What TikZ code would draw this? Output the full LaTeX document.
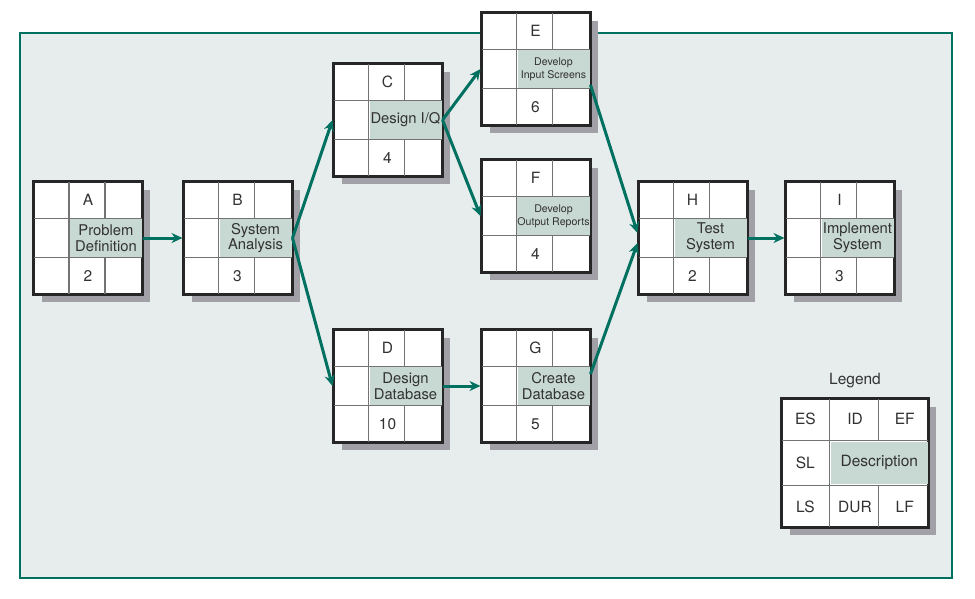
\documentclass[tikz,border=0pt]{standalone}
\usepackage{fontspec}
\setmainfont{TeX Gyre Heros}
\usetikzlibrary{positioning,arrows.meta,calc,shadows}
\definecolor{pertteal}{RGB}{0,112,96}
\definecolor{panelbg}{RGB}{231,237,237}
\definecolor{descfill}{RGB}{200,216,211}
\definecolor{shadowgray}{RGB}{160,160,166}
\definecolor{gridgray}{RGB}{115,115,115}
\definecolor{inkgray}{RGB}{50,50,50}
\tikzset{
  panel/.style={draw=pertteal, line width=2pt, fill=panelbg},
  actbox/.style={draw=black!85, line width=2pt, fill=white, inner sep=0pt,
                 minimum width=108pt, minimum height=112pt,
                 drop shadow={shadow xshift=8pt, shadow yshift=-8pt, fill=shadowgray, opacity=1}},
  legbox/.style={actbox, minimum width=146pt, minimum height=128pt},
  boxframe/.style={draw=black!85, line width=2pt},
  gridline/.style={draw=gridgray, line width=1.2pt},
  desccell/.style={fill=descfill, inner sep=0pt, minimum width=72pt, minimum height=37.3pt,
                   align=center, text=inkgray},
  cellbox/.style={inner sep=0pt, text=inkgray, font=\fontsize{15.5}{17}\selectfont},
  descfont/.style={font=\fontsize{14.8}{15.8}\selectfont},
  smallfont/.style={font=\fontsize{10.6}{13}\selectfont},
  flow/.style={-{Stealth[length=11pt, width=10pt]}, line width=3pt, pertteal},
  ttl/.style={text=inkgray, font=\fontsize{15.5}{17}\selectfont}
}
% activity box: name, centre, id, description, duration, description style
\newcommand{\actbox}[6]{%
  \node[actbox] (#1) at (#2) {};
  \node[desccell, #6] (#1-desc) at ($(#1.center)+(18,0)$) {#4};
  \draw[gridline] ($(#1.north west)+(36,0)$) -- ($(#1.south west)+(36,0)$);
  \draw[gridline] ($(#1.north west)+(72,0)$) -- ($(#1.north west)+(72,37.33)$);
  \draw[gridline] ($(#1.south west)+(72,0)$) -- ($(#1.south west)+(72,-37.33)$);
  \draw[gridline] ($(#1.north west)+(0,37.33)$) -- ($(#1.north east)+(0,37.33)$);
  \draw[gridline] ($(#1.south west)+(0,-37.33)$) -- ($(#1.south east)+(0,-37.33)$);
  \node[cellbox] (#1-id) at ($(#1.north)+(0,18.67)$) {#3};
  \node[cellbox] (#1-dur) at ($(#1.south)+(0,-18.67)$) {#5};
  \draw[boxframe] (#1.north west) rectangle (#1.south east);
}
\begin{document}
\begin{tikzpicture}[x=1pt, y=-1pt]
\useasboundingbox (0,0) rectangle (975,598);
\draw[panel] (20,33) rectangle (952,578);

% activities
\actbox{A}{88,238}{A}{Problem\\Definition}{2}{descfont}
\actbox{B}{237.5,238}{B}{System\\Analysis}{3}{descfont}
\actbox{C}{387.5,120}{C}{Design I/Q}{4}{descfont}
\actbox{D}{387.5,386}{D}{Design\\Database}{10}{descfont}
\actbox{E}{535.5,69}{E}{Develop\\Input Screens}{6}{smallfont}
\actbox{F}{535.5,216}{F}{Develop\\Output Reports}{4}{smallfont}
\actbox{G}{535.5,386}{G}{Create\\Database}{5}{descfont}
\actbox{H}{692.5,238}{H}{Test\\System}{2}{descfont}
\actbox{I}{839.5,238}{I}{Implement\\System}{3}{descfont}

% precedence arrows
\draw[flow] (A) -- (B);
\draw[flow] (B.east) -- (C.west);
\draw[flow] (B.east) -- (D.west);
\draw[flow] (C.east) -- (E.west);
\draw[flow] (C.east) -- (F.west);
\draw[flow] (D) -- (G);
\draw[flow] ($(E.east)+(0,16)$) -- ($(H.west)+(0,-5)$);
\draw[flow] ($(G.east)+(0,-12)$) -- ($(H.west)+(0,5)$);
\draw[flow] (H) -- (I);

% legend
\node[ttl] (legtitle) at (855,381) {Legend};
\node[legbox] (leg) at (855,463) {};
\node[desccell, minimum width=97.3pt, minimum height=42.7pt, cellbox] (leg-desc) at ($(leg.center)+(24.33,0)$) {Description};
\draw[gridline] ($(leg.north west)+(48.67,0)$) -- ($(leg.south west)+(48.67,0)$);
\draw[gridline] ($(leg.north west)+(97.33,0)$) -- ($(leg.north west)+(97.33,42.67)$);
\draw[gridline] ($(leg.south west)+(97.33,0)$) -- ($(leg.south west)+(97.33,-42.67)$);
\draw[gridline] ($(leg.north west)+(0,42.67)$) -- ($(leg.north east)+(0,42.67)$);
\draw[gridline] ($(leg.south west)+(0,-42.67)$) -- ($(leg.south east)+(0,-42.67)$);
\node[cellbox] (leg-es) at ($(leg.north west)+(24.33,21.33)$) {ES};
\node[cellbox] (leg-id) at ($(leg.north)+(0,21.33)$) {ID};
\node[cellbox] (leg-ef) at ($(leg.north east)+(-24.33,21.33)$) {EF};
\node[cellbox] (leg-sl) at ($(leg.west)+(24.33,0)$) {SL};
\node[cellbox] (leg-ls) at ($(leg.south west)+(24.33,-21.33)$) {LS};
\node[cellbox] (leg-dur) at ($(leg.south)+(0,-21.33)$) {DUR};
\node[cellbox] (leg-lf) at ($(leg.south east)+(-24.33,-21.33)$) {LF};
\draw[boxframe] (leg.north west) rectangle (leg.south east);
\end{tikzpicture}
\end{document}
